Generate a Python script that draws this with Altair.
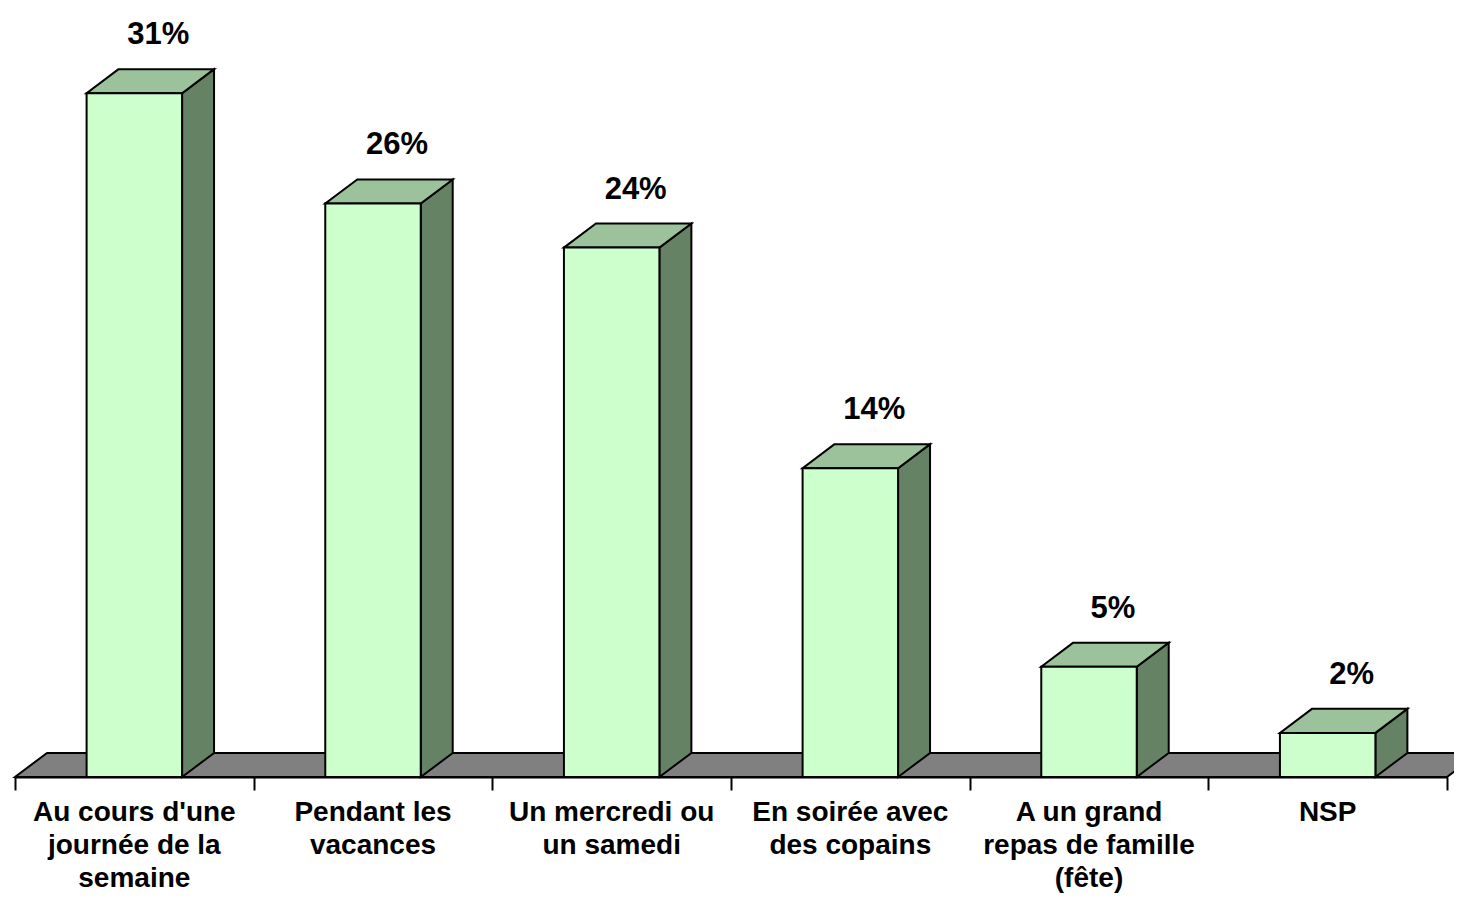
import altair as alt
import pandas as pd

categories = [
    "Au cours d'une\njournée de la\nsemaine",
    "Pendant les\nvacances",
    "Un mercredi ou\nun samedi",
    "En soirée avec\ndes copains",
    "A un grand\nrepas de famille\n(fête)",
    "NSP",
]
values = [31, 26, 24, 14, 5, 2]
value_labels = ["31%", "26%", "24%", "14%", "5%", "2%"]

# 3D look: depth offsets (x in category units, y in % units)
DX = 0.134
DY = 1.09
HALF = 0.2
N = len(categories)

base = pd.DataFrame({
    "i": list(range(N)),
    "cat": categories,
    "v": values,
    "lab": value_labels,
})
base["x0"] = base["i"] + 0.5 - HALF
base["x1"] = base["i"] + 0.5 + HALF
base["xc"] = base["i"] + 0.5
base["xl"] = base["i"] + 0.5 + DX * 0.75
base["zero"] = 0
base["vt"] = base["v"] + DY

side_rows, top_rows = [], []
for _, r in base.iterrows():
    side_rows.append({"bar": r["i"], "x": r["x1"], "lo": 0, "hi": r["v"]})
    side_rows.append({"bar": r["i"], "x": r["x1"] + DX, "lo": DY, "hi": r["v"] + DY})
    top_rows.append({"bar": r["i"], "y": r["v"], "xa": r["x0"], "xb": r["x1"]})
    top_rows.append({"bar": r["i"], "y": r["v"] + DY, "xa": r["x0"] + DX, "xb": r["x1"] + DX})
side = pd.DataFrame(side_rows)
top = pd.DataFrame(top_rows)
floor = pd.DataFrame({"y": [0, DY], "xa": [0, DX], "xb": [N, N + DX]})

xs = alt.Scale(domain=[0, N], nice=False, zero=False)
ys = alt.Scale(domain=[0, 34], nice=False, zero=False)

xaxis = alt.Axis(
    values=list(range(N + 1)), labels=False, title="", grid=False,
    domainColor="black", domainWidth=2, tickColor="black",
    tickWidth=2, tickSize=13)

H = 750
FONT = "Liberation Sans"

floor_layer = alt.Chart(floor).mark_area(
    orient="horizontal", fill="#808080", stroke="black", strokeWidth=2
).encode(
    y=alt.Y("y:Q", scale=ys, axis=None),
    x=alt.X("xa:Q", scale=xs, axis=xaxis),
    x2="xb:Q",
)

side_layer = alt.Chart(side).mark_area(
    orient="vertical", fill="#658265", stroke="black", strokeWidth=2
).encode(
    x=alt.X("x:Q", scale=xs, axis=xaxis),
    y=alt.Y("lo:Q", scale=ys, axis=None),
    y2="hi:Q",
    detail="bar:N",
)

top_layer = alt.Chart(top).mark_area(
    orient="horizontal", fill="#9BC29B", stroke="black", strokeWidth=2
).encode(
    y=alt.Y("y:Q", scale=ys, axis=None),
    x=alt.X("xa:Q", scale=xs, axis=xaxis),
    x2="xb:Q",
    detail="bar:N",
)

front_layer = alt.Chart(base).mark_rect(
    fill="#CCFFCC", stroke="black", strokeWidth=2
).encode(
    x=alt.X("x0:Q", scale=xs, axis=xaxis),
    x2="x1:Q",
    y=alt.Y("zero:Q", scale=ys, axis=None),
    y2="v:Q",
)

value_text = alt.Chart(base).mark_text(
    font=FONT, fontSize=31, fontWeight="bold", baseline="alphabetic",
    align="center", dy=-25, color="black"
).encode(
    x=alt.X("xl:Q", scale=xs, axis=xaxis),
    y=alt.Y("vt:Q", scale=ys, axis=None),
    text="lab:N",
)

cat_text = alt.Chart(base).mark_text(
    font=FONT, fontSize=28, fontWeight="bold", baseline="alphabetic",
    align="center", lineBreak="\n", lineHeight=33, color="black"
).encode(
    x=alt.X("xc:Q", scale=xs, axis=xaxis),
    y=alt.value(H + 44),
    text="cat:N",
)

chart = alt.layer(
    floor_layer, side_layer, top_layer, front_layer, value_text, cat_text
).properties(
    width=1432,
    height=H,
    padding={"left": 7, "top": 19, "right": 7, "bottom": 116},
    autosize=alt.AutoSizeParams(type="none"),
    background="white",
).configure_view(strokeWidth=0)

chart.save("out.html", embed_options={"renderer": "svg", "actions": False})
